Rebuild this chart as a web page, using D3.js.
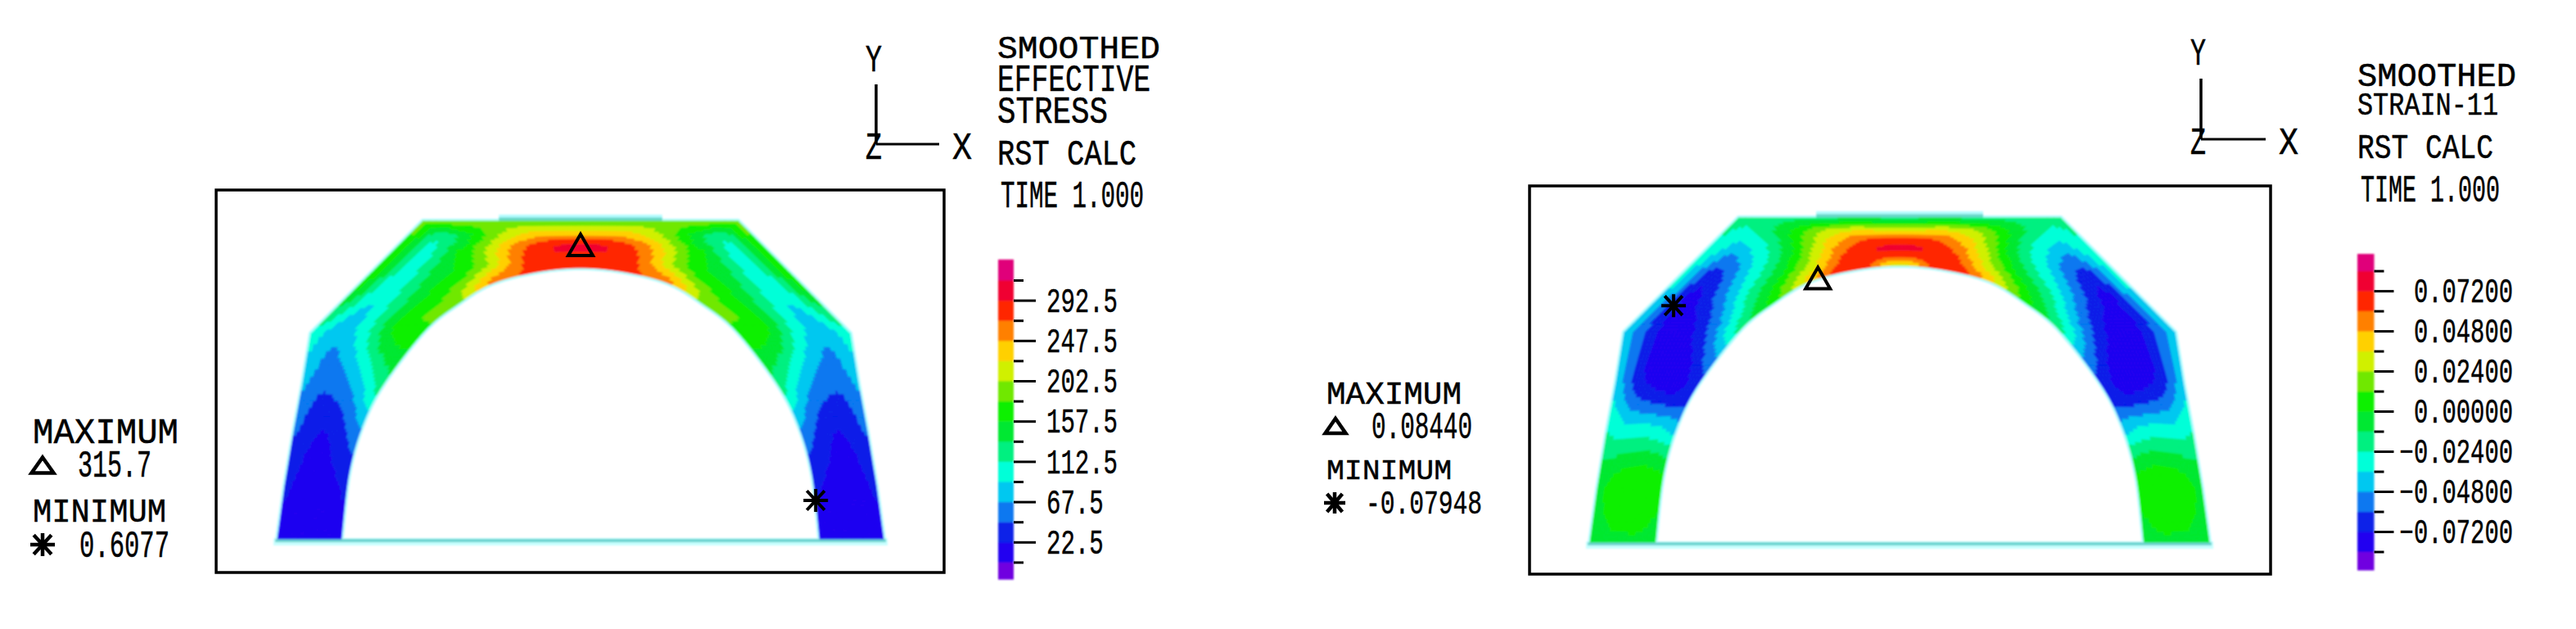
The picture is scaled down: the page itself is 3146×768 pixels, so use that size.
<!DOCTYPE html>
<html>
<head>
<meta charset="utf-8">
<style>
html,body{margin:0;padding:0;background:#fff;}
svg{display:block;}
text{font-family:"Liberation Mono","DejaVu Sans Mono",monospace;fill:#000;stroke:#000;stroke-width:.5px;}
</style>
<script src="https://cdn.jsdelivr.net/npm/d3@7"></script>
</head>
<body>
<svg id="chart" width="3146" height="768"></svg>
<script>
// ---------- data ----------
// half-arch mesh in model units (offset from centre line, height above base)
const innerEdge=[[0,331],[54,326],[108,312],[150,287],[191,254],[242,188],[268,136],[284,78],[293,0]];
const outerEdge=[[0,388],[80,388],[193,388],[262,319],[330,251],[340,190],[351,131],[362,65],[371,0]];
// nodal values: one row per station, inner face to outer face
const stressField=[
 [282,286,293,232,190],
 [276,280,266,222,190],
 [255,185,158,118,185],
 [192,170,130,100,170],
 [175,165,110,75,105],
 [125,88,60,50,72],
 [70,42,24,28,48],
 [30,20,15,17,26],
 [18,14,12,14,20]];
const strainField=[
 [.03,.068,.068,.03,-.014],
 [.07,.065,.052,.03,-.014],
 [.04,.006,-.018,-.025,-.02],
 [.005,-.02,-.05,-.07,-.032],
 [-.02,-.056,-.078,-.07,-.04],
 [-.066,-.076,-.075,-.065,-.04],
 [-.042,-.034,-.03,-.03,-.024],
 [.001,.006,.008,.004,-.004],
 [-.006,-.002,-.002,-.003,-.01]];
const stressTicks=[0,22.5,45,67.5,90,112.5,135,157.5,180,202.5,225,247.5,270,292.5,315];
const strainTicks=[-.084,-.072,-.06,-.048,-.036,-.024,-.012,0,.012,.024,.036,.048,.06,.072,.084];
const stressBarLimits=[-19,338];
const strainBarLimits=[-.095,.0941];
const stressLabelled=[22.5,67.5,112.5,157.5,202.5,247.5,292.5];
const strainLabelled=[-.072,-.048,-.024,0,.024,.048,.072];
const bandColors=["#7000e0","#2000f0","#0820e8","#0878f0","#00c8f0","#00ffd8","#00f080","#00e830","#10f000","#70e800","#d0f000","#ffd000","#ff8000","#ff2800","#f00030","#e0007a"];
const stressTitle=["SMOOTHED","EFFECTIVE","STRESS"];
const strainTitle=["SMOOTHED","STRAIN-11"];
const calcLabel="RST CALC";
const timeLabel="TIME 1.000";
const stressExtremes=["315.7","0.6077"];
const strainExtremes=["0.08440","-0.07948"];
const stressMarkers={max:[0,359],min:[288,47]};
const strainMarkers={max:[-98,316],min:[-271,283]};
const topPlate=[-100,100,388,396];

// ---------- drawing ----------
const svg=d3.select("#chart");
const CAP=0.66;
const defs=svg.append("defs");
defs.append("filter").attr("id","soft").attr("x","-5%").attr("y","-5%").attr("width","110%").attr("height","110%")
  .append("feGaussianBlur").attr("stdDeviation",1);
defs.append("filter").attr("id","softer").attr("x","-20%").attr("y","-5%").attr("width","140%").attr("height","110%")
  .append("feGaussianBlur").attr("stdDeviation",.9);

function label(g,str,x0,x1,y0,y1){
  return g.append("text").text(str).attr("x",x0).attr("y",y1)
    .attr("font-size",(y1-y0)/CAP)
    .attr("textLength",x1-x0).attr("lengthAdjust","spacingAndGlyphs");
}
function triangle(g,cx,cy,w,h,sw){
  const p=d3.path();p.moveTo(cx,cy-h/2);p.lineTo(cx+w/2,cy+h/2);p.lineTo(cx-w/2,cy+h/2);p.closePath();
  g.append("path").attr("d",p).attr("fill","none").attr("stroke","#000").attr("stroke-width",sw);
}
function star(g,cx,cy,w,h,sw){
  const p=d3.path();
  const a=w/2,b=h/2,c=w*.36,e=h*.42;
  p.moveTo(cx-a,cy);p.lineTo(cx+a,cy);
  p.moveTo(cx,cy-b);p.lineTo(cx,cy+b);
  p.moveTo(cx-c,cy-e);p.lineTo(cx+c,cy+e);
  p.moveTo(cx+c,cy-e);p.lineTo(cx-c,cy+e);
  g.append("path").attr("d",p).attr("fill","none").attr("stroke","#000").attr("stroke-width",sw);
}
const cr=(a,b,c,d,t)=>.5*(2*b+(c-a)*t+(2*a-5*b+4*c-d)*t*t+(3*b-a-3*c+d)*t*t*t);
function innerAt(s){
  const n=innerEdge.length,i=Math.min(Math.floor(s),n-2),t=s-i;
  const g=k=>k<0?[-innerEdge[-k][0],innerEdge[-k][1]]:innerEdge[Math.min(k,n-1)];
  const a=g(i-1),b=g(i),c=g(i+1),d=g(i+2);
  return [cr(a[0],b[0],c[0],d[0],t),cr(a[1],b[1],c[1],d[1],t)];
}
function outerAt(s){
  const n=outerEdge.length,i=Math.min(Math.floor(s),n-2),t=s-i;
  return [outerEdge[i][0]+(outerEdge[i+1][0]-outerEdge[i][0])*t,outerEdge[i][1]+(outerEdge[i+1][1]-outerEdge[i][1])*t];
}
function fieldAt(field,s,w){
  const n=field.length,i=Math.min(Math.floor(s),n-2),u=s-i;
  const m=field[0].length,j=Math.min(Math.floor(w),m-2),v=w-j;
  const row=k=>{const r=field[k<0?-k:Math.min(k,n-1)];
    const q=l=>r[Math.max(0,Math.min(l,m-1))];
    return cr(q(j-1),q(j),q(j+1),q(j+2),v);};
  return cr(row(i-1),row(i),row(i+1),row(i+2),u);
}

function drawArch(g0,L,field,thresholds){
  const g=g0.append("g").attr("filter","url(#soft)");
  const x=d3.scaleLinear().domain([-371,371]).range(L.xr);
  const y=d3.scaleLinear().domain([0,388]).range(L.yr);
  const band=d3.scaleThreshold().domain(thresholds).range(d3.range(bandColors.length));
  const line=d3.line().x(d=>x(d[0])).y(d=>y(d[1]));
  const S=field.length-1,nu=14,nv=28;
  const innerFine=[];
  for(let k=0;k<=S*nu;k++)innerFine.push(innerAt(k/nu));
  const outline=[...outerEdge.slice().reverse().map(d=>[-d[0],d[1]]),...outerEdge.slice(1),
                 ...innerFine.slice().reverse(),...innerFine.slice(1).map(d=>[-d[0],d[1]])];
  g.append("path").attr("d",line(outline)+"Z").attr("fill","none").attr("stroke","#b4fcff").attr("stroke-width",6).attr("stroke-linejoin","round");
  const px=x(topPlate[0]),pw=x(topPlate[1])-x(topPlate[0]);
  g.append("rect").attr("x",px).attr("width",pw).attr("y",y(topPlate[3])).attr("height",y(topPlate[2])-y(topPlate[3])).attr("fill","#b4fcff");
  const pm=topPlate[2]+(topPlate[3]-topPlate[2])*.55;
  g.append("rect").attr("x",px).attr("width",pw).attr("y",y(pm)).attr("height",y(topPlate[2])-y(pm)).attr("fill","#66d8c8");
  g.append("rect").attr("x",x(-376)).attr("width",x(376)-x(-376)).attr("y",y(0)-1).attr("height",9).attr("fill","#c8ffff");
  g.append("rect").attr("x",x(-374)).attr("width",x(374)-x(-374)).attr("y",y(0)).attr("height",4).attr("fill","#6cd4d0");
  // banded field
  const paths=bandColors.map(()=>d3.path());
  const m=field[0].length-1;
  [-1,1].forEach(side=>{
    const pt=(s,w)=>{const a=innerAt(s),b=outerAt(s),t=w/m;return [side*(a[0]+(b[0]-a[0])*t),a[1]+(b[1]-a[1])*t];};
    for(let a=0;a<S*nu;a++)for(let b=0;b<nv;b++){
      const s0=a/nu,s1=(a+1)/nu,w0=b/nv*m,w1=(b+1)/nv*m;
      const val=fieldAt(field,(a+.5)/nu,(b+.5)/nv*m);
      const c=[pt(s0,w0),pt(s1,w0),pt(s1,w1),pt(s0,w1)];
      const pth=paths[band(val)];
      pth.moveTo(x(c[0][0]),y(c[0][1]));
      for(let k=1;k<4;k++)pth.lineTo(x(c[k][0]),y(c[k][1]));
      pth.closePath();
    }
  });
  paths.forEach((p,k)=>g.append("path").attr("d",p.toString()).attr("fill",bandColors[k]).attr("stroke",bandColors[k]).attr("stroke-width",.8));
  return {x,y};
}

function drawPanel(L,o){
  const g=svg.append("g");
  g.append("rect").attr("x",L.frame[0]).attr("y",L.frame[1]).attr("width",L.frame[2]-L.frame[0]).attr("height",L.frame[3]-L.frame[1])
    .attr("fill","none").attr("stroke","#000").attr("stroke-width",3.5);
  const s=drawArch(g,L,o.field,o.ticks);
  triangle(g,s.x(o.markers.max[0]),s.y(o.markers.max[1]),30,26,4);
  star(g,s.x(o.markers.min[0]),s.y(o.markers.min[1]),30,28,4);

  // triad
  g.append("line").attr("x1",L.tx).attr("x2",L.tx).attr("y1",L.ty0).attr("y2",L.ty1).attr("stroke","#000").attr("stroke-width",3.5);
  g.append("line").attr("x1",L.tx).attr("x2",L.tx2).attr("y1",L.ty1).attr("y2",L.ty1).attr("stroke","#000").attr("stroke-width",3);
  L.triad.forEach(t=>label(g,t[0],t[1],t[2],t[3],t[4]));

  // titles
  L.text.forEach(t=>label(g,t[0],t[1],t[2],t[3],t[4]));

  // extremes
  L.ext.forEach(t=>label(g,t[0],t[1],t[2],t[3],t[4]));
  triangle(g,L.legTri[0],L.legTri[1],L.legTri[2],L.legTri[3],4.5);
  star(g,L.legStar[0],L.legStar[1],L.legStar[2],L.legStar[3],4.5);

  // colour bar
  const c=d3.scaleLinear().domain([o.ticks[0],o.ticks[o.ticks.length-1]]).range(L.cr);
  const edges=[o.limits[0],...o.ticks,o.limits[1]];
  g.append("g").attr("filter","url(#softer)").selectAll("rect").data(bandColors).join("rect")
    .attr("x",L.bar[0]).attr("width",L.bar[1]-L.bar[0])
    .attr("y",(d,i)=>c(edges[i+1])).attr("height",(d,i)=>c(edges[i])-c(edges[i+1])+.5)
    .attr("fill",d=>d);
  const isLab=v=>o.labelled.some(l=>Math.abs(l-v)<1e-6);
  const ax=g.append("g").attr("transform",`translate(${L.bar[1]},0)`)
    .call(d3.axisRight(c).tickValues(o.ticks).tickSize(L.tickLong).tickFormat(v=>isLab(v)?o.fmt(v):""));
  ax.select(".domain").remove();
  ax.selectAll(".tick line").attr("x2",v=>isLab(v)?L.tickLong:L.tickShort).attr("stroke","#000").attr("stroke-width",3);
  ax.selectAll(".tick text")
    .attr("font-family",null)
    .attr("font-size",27.5/CAP).attr("dy",".33em")
    .attr("text-anchor",L.anchor).attr("x",L.labelX-L.bar[1])
    .attr("textLength",v=>{const t=o.fmt(v);return t.length*L.charW-(t[0]==="-"?4:0);})
    .attr("lengthAdjust","spacingAndGlyphs");
}

drawPanel({
  frame:[264,232,1153,699],xr:[339,1079],yr:[658,270],
  tx:1070,tx2:1147,ty0:103,ty1:176,
  triad:[["Y",1057,1077,56,87],["X",1163,1187,163,194],["Z",1057,1077,163,194]],
  text:[[stressTitle[0],1218,1417,45,71],[stressTitle[1],1218,1405,81,111],[stressTitle[2],1218,1353,120,150],
        [calcLabel,1218,1388,172,201],[timeLabel,1222,1397,223,253]],
  ext:[["MAXIMUM",40,218,512,541],[stressExtremes[0],95,185,552,582],["MINIMUM",40,203,610,637],[stressExtremes[1],97,207,650,680]],
  legTri:[52,568,27,19],legStar:[52,665,30,28],
  bar:[1219,1238],cr:[686.4,342],tickLong:27,tickShort:12,anchor:"start",labelX:1278,charW:17.4
},{field:stressField,ticks:stressTicks,limits:stressBarLimits,labelled:stressLabelled,markers:stressMarkers,fmt:d3.format(".1f")});

drawPanel({
  frame:[1868,227,2773,701],xr:[1942,2698],yr:[662,266],
  tx:2688,tx2:2767,ty0:96,ty1:170,
  triad:[["Y",2675,2694,48,79],["X",2783,2807,157,188],["Z",2675,2694,157,188]],
  text:[[strainTitle[0],2879,3073,78,105],[strainTitle[1],2879,3051,114,140],
        [calcLabel,2879,3045,165,193],[timeLabel,2883,3053,215,246]],
  ext:[["MAXIMUM",1620,1785,468,493],[strainExtremes[0],1675,1798,505,535],["MINIMUM",1620,1773,562,585],[strainExtremes[1],1668,1810,600,627]],
  legTri:[1631,520,25,18],legStar:[1630,614,26,26],
  bar:[2879,2899.5],cr:[673.5,330.6],tickLong:24,tickShort:12,anchor:"end",labelX:3069,charW:17.3
},{field:strainField,ticks:strainTicks,limits:strainBarLimits,labelled:strainLabelled,markers:strainMarkers,fmt:d3.format(".5f")});
</script>
</body>
</html>
